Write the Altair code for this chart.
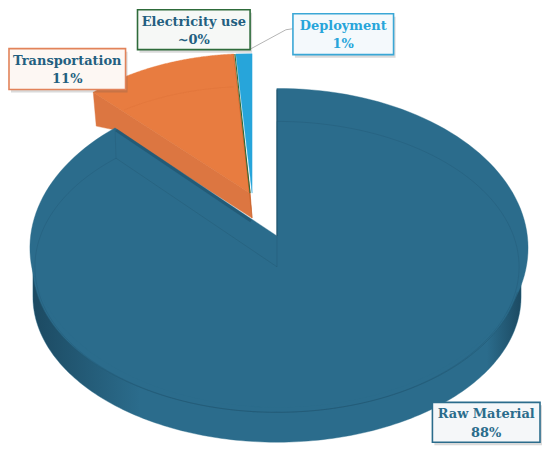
import numpy as np
import pandas as pd
import altair as alt

categories = ["Raw Material", "Transportation", "Electricity use", "Deployment"]
shares = [88.0, 11.0, 0.15, 1.0]
share_labels = ["88%", "11%", "~0%", "1%"]

BLUE, BLUE_DARK = "#2b6c8c", "#1c4a62"
ORANGE, ORANGE_WALL, ORANGE_DARK = "#e87c40", "#dc7641", "#c8622c"
GREEN, SKY = "#2e6b3a", "#27a5da"
FONT = "DejaVu Serif"

# sweep of every slice, clockwise from 12 o'clock, derived from the shares
total = sum(shares)
edges = np.cumsum([0] + shares) / total * 360.0
start = dict(zip(categories, edges[:-1]))
end = dict(zip(categories, edges[1:]))


def pt(c, a, b, deg):
    r = np.radians(deg)
    return (c[0] + a * np.sin(r), c[1] - b * np.cos(r))


def arc(c, a, b, d0, d1, n=160):
    return [pt(c, a, b, d) for d in np.linspace(d0, d1, n)]


X = alt.X("x:Q", axis=None, scale=alt.Scale(domain=[8, 542], nice=False, zero=False))
Y = alt.Y("y:Q", axis=None, scale=alt.Scale(domain=[446, 8], nice=False, zero=False))


def frame(points):
    return pd.DataFrame({"x": [p[0] for p in points], "y": [p[1] for p in points],
                         "i": range(len(points))})


def poly(points, fill, **kw):
    pts = list(points) + [points[0]]
    stroke = fill if isinstance(fill, str) else BLUE
    return alt.Chart(frame(pts)).mark_line(fill=fill, stroke=stroke, strokeWidth=0.4, **kw).encode(
        x=X, y=Y, order="i:Q")


def line(points, color, width=0.8, opacity=1.0):
    return alt.Chart(frame(points)).mark_line(stroke=color, strokeWidth=width, opacity=opacity).encode(
        x=X, y=Y, order="i:Q")


layers = []

# ---- exploded slices (behind the big one) ----
C_o = (249, 192)
o0, o1 = start["Transportation"], end["Transportation"]
e0, e1 = start["Electricity use"], end["Electricity use"]
d0, d1 = start["Deployment"], end["Deployment"]
corner = pt(C_o, 228, 140, o0)
layers.append(poly([corner, (corner[0] + 3, corner[1] + 34), (corner[0] + 22, corner[1] + 38),
                    (C_o[0] + 2, C_o[1] + 25), C_o], ORANGE_WALL))
layers.append(poly([C_o] + arc(C_o, 228, 140, o0, o1), ORANGE))
layers.append(poly([pt(C_o, 228, 140, o1), (C_o[0] + 2, C_o[1] + 25), C_o], ORANGE_DARK))
layers.append(line(arc((C_o[0], C_o[1] + 33), 228, 140, o0 + 10, o1), ORANGE_DARK, 0.7, 0.25))
layers.append(line([(corner[0], corner[1]), C_o], ORANGE_DARK, 0.6, 0.3))
layers.append(poly([(C_o[0] + 2, C_o[1]), (C_o[0] + 2, 52), pt(C_o, 228, 140, d0)], SKY))
layers.append(line([pt(C_o, 228, 140, e0 + 0.3), C_o], GREEN, 1.1))

# ---- big slice ----
rm0, rm1 = start["Raw Material"], end["Raw Material"]
apex = (276, 235)
C_up, C_mid, C_low = (278, 247), (276, 266), (276, 296)
A_up, B_up = 250, 160
side = alt.Gradient(
    gradient="linear", x1=0, x2=1, y1=0, y2=0,
    stops=[alt.GradientStop(color=BLUE_DARK, offset=0), alt.GradientStop(color=BLUE, offset=0.22),
           alt.GradientStop(color=BLUE, offset=0.93), alt.GradientStop(color=BLUE_DARK, offset=1)])
layers.append(poly([pt(C_mid, 245, 146, 90)] + arc(C_low, 245, 146, 90, 270) + [pt(C_mid, 245, 146, 270)], side))
layers.append(poly([C_mid] + arc(C_mid, 245, 146, rm0, rm1), BLUE))
t_end = rm1 + 2.5
layers.append(poly(arc(C_up, A_up, B_up, rm0 - 0.5, t_end) + [apex], BLUE))

# shadow along the cut edge and the inner contour
c_up = pt(C_up, A_up, B_up, t_end)
layers.append(line([(c_up[0] + 1, c_up[1] + 2), (apex[0] - 26, apex[1] - 15)], BLUE_DARK, 3, 0.5))
inner = arc(C_mid, 243, 146, rm0, rm1 + 2)
layers.append(line(inner, BLUE_DARK, 0.8, 0.28))
layers.append(line([inner[-1], C_mid, apex], BLUE_DARK, 0.8, 0.3))
layers.append(line([c_up, inner[-1]], BLUE_DARK, 0.8, 0.25))
layers.append(line([(apex[0], 88), apex], BLUE_DARK, 1.0, 0.9))
# thin lower rim line
layers.append(line(arc(C_mid, 245, 146, 100, 262), BLUE_DARK, 0.7, 0.45))

# ---- leader line ----
layers.append(line([(250, 47), (285, 28), (292, 27)], "#b5b5b5", 1.0))

# ---- label boxes ----
boxes = pd.DataFrame({
    "name": categories,
    "x": [432, 7, 136, 292],
    "x2": [540, 124, 249, 393],
    "y": [402, 47, 8, 12],
    "y2": [442, 88, 48, 53],
    "stroke": [BLUE, "#e2835a", GREEN, "#3aa7d6"],
    "fill": ["#f5f7f9", "#fdf7f3", "#f6f8f6", "#f4f9fc"],
    "text": [BLUE, "#235f80", "#235f80", SKY],
})
for _, r in boxes.iterrows():
    one = pd.DataFrame([r.to_dict()])
    shadow = one.assign(x=r.x + 2, x2=r.x2 + 2, y=r.y + 3, y2=r.y2 + 3)
    layers.append(alt.Chart(shadow).mark_rect(fill="#555555", opacity=0.22).encode(
        x=X, x2="x2:Q", y=Y, y2="y2:Q"))
    layers.append(alt.Chart(one).mark_rect(fill=r["fill"], stroke=r["stroke"], strokeWidth=1.6).encode(
        x=X, x2="x2:Q", y=Y, y2="y2:Q"))
    idx = categories.index(r["name"])
    mid = (r.x + r.x2) / 2
    txt = pd.DataFrame({"x": [mid, mid], "y": [r.y + 12, r.y + 30.5],
                        "t": [r["name"], share_labels[idx]]})
    layers.append(alt.Chart(txt).mark_text(font=FONT, fontWeight="bold", fontSize=13,
                                           color=r["text"], align="center", baseline="middle").encode(
        x=X, y=Y, text="t:N"))

chart = alt.layer(*layers).properties(width=534, height=438, padding=0).configure_view(stroke=None)
chart.save("out.html", embed_options={"renderer": "svg", "actions": False})
